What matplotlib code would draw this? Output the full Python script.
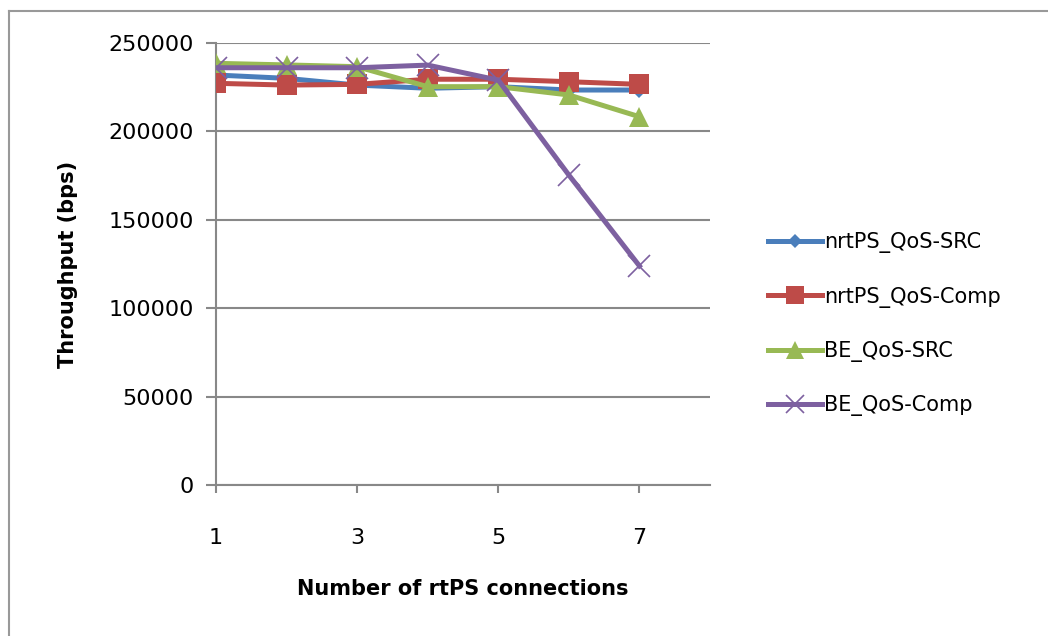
import matplotlib
matplotlib.use("Agg")
import matplotlib.pyplot as plt
from matplotlib.lines import Line2D

# number of rtPS connections
connections = [1, 2, 3, 4, 5, 6, 7]

# throughput (bps)
nrtps_src = [231900, 230000, 226200, 224400, 225300, 223400, 223400]
nrtps_comp = [227200, 226200, 226600, 229500, 229500, 228100, 226600]
be_src = [238500, 237600, 236600, 225300, 225300, 220600, 208300]
be_comp = [236000, 236000, 236000, 237500, 229000, 175300, 123900]

series_names = ["nrtPS_QoS-SRC", "nrtPS_QoS-Comp", "BE_QoS-SRC", "BE_QoS-Comp"]
y_ticks = [0, 50000, 100000, 150000, 200000, 250000]
x_ticks = [1, 3, 5, 7]

colors = ["#4A7EBB", "#BE4B48", "#98B954", "#7D60A0"]
markers = ["D", "s", "^", "x"]
msizes = [8, 15, 15, 16]
grid_col = "#888888"

fig = plt.figure(figsize=(10.48, 6.36), dpi=100)
ax = fig.add_axes([0.2061, 0.2374, 0.6775 - 0.2061, 0.9324 - 0.2374])

all_series = [nrtps_src, nrtps_comp, be_src, be_comp]
for vals, c, m, ms in zip(all_series, colors, markers, msizes):
    ax.plot(connections, vals, color=c, lw=3.6, marker=m, markersize=ms,
            markeredgewidth=1.2 if m == "x" else 0, markeredgecolor=c,
            solid_joinstyle="round", zorder=3)

ax.set_xlim(1, 8)
ax.set_ylim(0, 250000)
ax.set_yticks(y_ticks)
ax.set_yticklabels([str(v) for v in y_ticks])
ax.set_xticks(x_ticks)
ax.set_xticklabels([str(v) for v in x_ticks])

ax.yaxis.grid(True, color=grid_col, lw=1.5, zorder=0)
for s in ["top", "right"]:
    ax.spines[s].set_visible(False)
for s in ["left", "bottom"]:
    ax.spines[s].set_color(grid_col)
    ax.spines[s].set_linewidth(1.5)
ax.tick_params(axis="y", length=7, width=1.5, color=grid_col, pad=9, labelsize=16)
ax.tick_params(axis="x", length=6, width=1.5, color=grid_col, pad=25, labelsize=16)

ax.set_ylabel("Throughput (bps)", fontsize=15, fontweight="bold", labelpad=22)
ax.set_xlabel("Number of rtPS connections", fontsize=15, fontweight="bold", labelpad=22)

handles = [Line2D([], [], color=c, lw=3.6, marker=m, markersize=ms * 0.85,
                  markeredgewidth=1.2 if m == "x" else 0, markeredgecolor=c)
           for c, m, ms in zip(colors, markers, msizes)]
fig.legend(handles, series_names, loc="center left", bbox_to_anchor=(0.715, 0.49),
           frameon=False, fontsize=15, handlelength=2.6, handletextpad=0.1,
           labelspacing=1.6)

# chart area border (top and left only visible)
fig.add_artist(Line2D([9 / 1048, 9 / 1048], [0, 1 - 11 / 636],
                      transform=fig.transFigure, color="#999999", lw=1.5))
fig.add_artist(Line2D([9 / 1048, 1], [1 - 11 / 636, 1 - 11 / 636],
                      transform=fig.transFigure, color="#999999", lw=1.5))

fig.savefig("out.png", dpi=100)
